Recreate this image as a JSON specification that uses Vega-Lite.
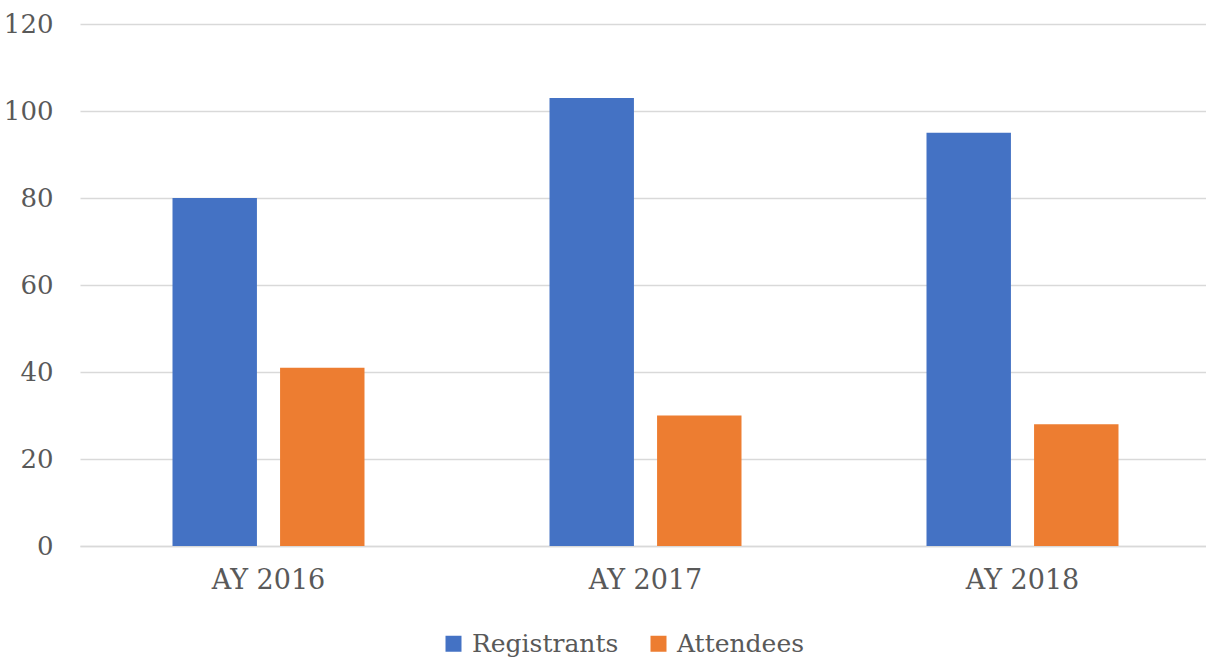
{
  "$schema": "https://vega.github.io/schema/vega-lite/v6.json",
  "width": 1131,
  "height": 522,
  "autosize": {"type": "none"},
  "padding": {"left": 80, "top": 24, "right": 0, "bottom": 116},
  "background": "white",
  "data": {
    "values": [
      {"year": "AY 2016", "series": "Registrants", "value": 80},
      {"year": "AY 2016", "series": "Attendees", "value": 41},
      {"year": "AY 2017", "series": "Registrants", "value": 103},
      {"year": "AY 2017", "series": "Attendees", "value": 30},
      {"year": "AY 2018", "series": "Registrants", "value": 95},
      {"year": "AY 2018", "series": "Attendees", "value": 28}
    ]
  },
  "config": {
    "view": {"stroke": null},
    "font": "DejaVu Serif"
  },
  "mark": {"type": "bar"},
  "encoding": {
    "x": {
      "field": "year",
      "type": "nominal",
      "title": null,
      "scale": {"paddingInner": 0, "paddingOuter": 0},
      "axis": {
        "labelAngle": 0,
        "labelFont": "DejaVu Serif",
        "labelFontSize": 27,
        "labelColor": "#595959",
        "labelPadding": 21,
        "ticks": false,
        "domain": true,
        "domainColor": "#D9D9D9",
        "domainWidth": 1.5
      }
    },
    "xOffset": {
      "field": "series",
      "type": "nominal",
      "sort": ["Registrants", "Attendees"],
      "scale": {"paddingInner": 0.215, "paddingOuter": 0.86}
    },
    "y": {
      "field": "value",
      "type": "quantitative",
      "title": null,
      "scale": {"domain": [0, 120]},
      "axis": {
        "values": [0, 20, 40, 60, 80, 100, 120],
        "labelFont": "DejaVu Serif",
        "labelFontSize": 26,
        "labelColor": "#595959",
        "labelPadding": 27,
        "ticks": false,
        "domain": false,
        "grid": true,
        "gridColor": "#D9D9D9",
        "gridWidth": 1.5
      }
    },
    "color": {
      "field": "series",
      "type": "nominal",
      "sort": ["Registrants", "Attendees"],
      "scale": {"domain": ["Registrants", "Attendees"], "range": ["#4472C4", "#ED7D31"]},
      "legend": {
        "title": null,
        "orient": "none",
        "direction": "horizontal",
        "legendX": 361,
        "legendY": 607,
        "symbolType": "square",
        "symbolSize": 256,
        "symbolStrokeWidth": 0,
        "labelFont": "DejaVu Serif",
        "labelFontSize": 25,
        "labelColor": "#595959",
        "labelOffset": 6,
        "columnPadding": 27
      }
    }
  }
}
